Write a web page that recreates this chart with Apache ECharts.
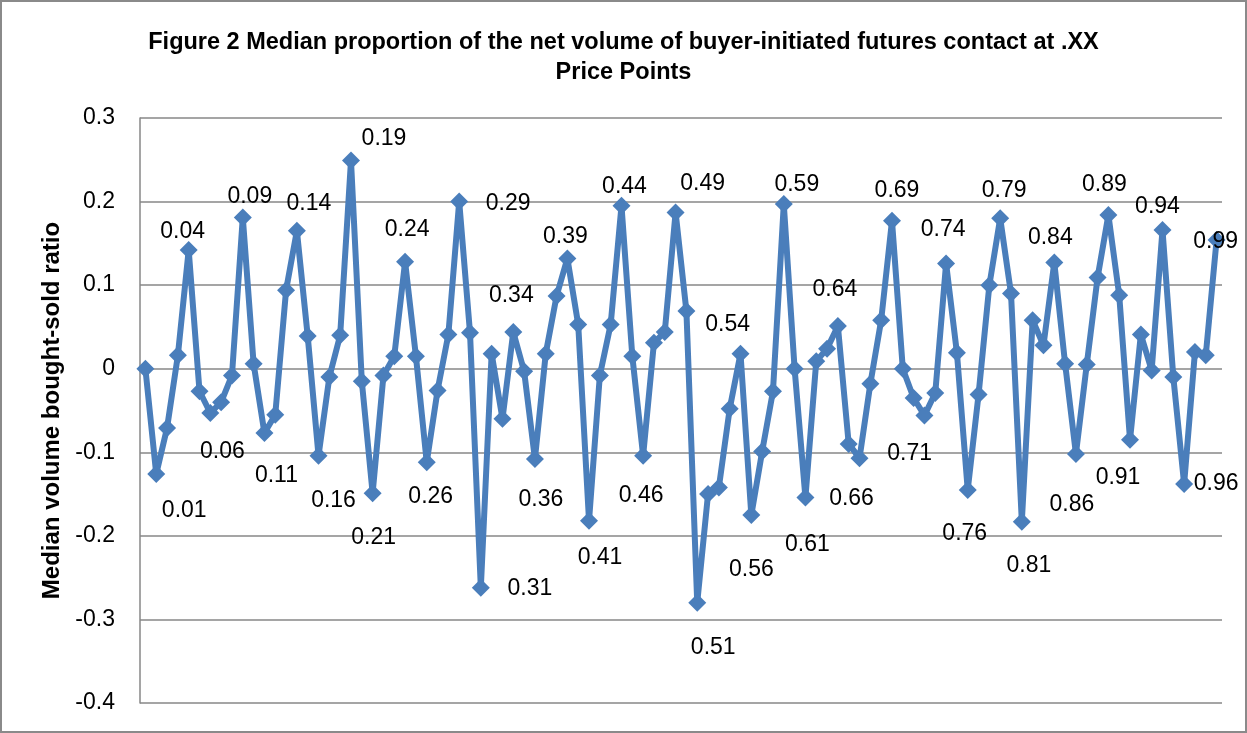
<!DOCTYPE html>
<html>
<head>
<meta charset="utf-8">
<title>Figure 2</title>
<script src="https://cdn.jsdelivr.net/npm/echarts@6/dist/echarts.min.js"></script>
<style>
  html, body { margin: 0; padding: 0; background: #fff; }
  #chart { width: 1247px; height: 733px; }
</style>
</head>
<body>
<div id="chart"></div>
<script>
// Price point categories (.00 through .99)
const categories = [
  '0.00','0.01','0.02','0.03','0.04','0.05','0.06','0.07','0.08','0.09',
  '0.10','0.11','0.12','0.13','0.14','0.15','0.16','0.17','0.18','0.19',
  '0.20','0.21','0.22','0.23','0.24','0.25','0.26','0.27','0.28','0.29',
  '0.30','0.31','0.32','0.33','0.34','0.35','0.36','0.37','0.38','0.39',
  '0.40','0.41','0.42','0.43','0.44','0.45','0.46','0.47','0.48','0.49',
  '0.50','0.51','0.52','0.53','0.54','0.55','0.56','0.57','0.58','0.59',
  '0.60','0.61','0.62','0.63','0.64','0.65','0.66','0.67','0.68','0.69',
  '0.70','0.71','0.72','0.73','0.74','0.75','0.76','0.77','0.78','0.79',
  '0.80','0.81','0.82','0.83','0.84','0.85','0.86','0.87','0.88','0.89',
  '0.90','0.91','0.92','0.93','0.94','0.95','0.96','0.97','0.98','0.99'
];

// Median bought-sold ratio at each price point
const medianRatio = [
   0.000, -0.126, -0.071,  0.016,  0.142, -0.027, -0.053, -0.040, -0.008,  0.181,
   0.006, -0.077, -0.055,  0.094,  0.165,  0.039, -0.104, -0.010,  0.040,  0.249,
  -0.015, -0.149, -0.008,  0.015,  0.128,  0.015, -0.112, -0.026,  0.041,  0.200,
   0.043, -0.262,  0.018, -0.060,  0.044, -0.003, -0.108,  0.018,  0.087,  0.132,
   0.053, -0.182, -0.008,  0.053,  0.195,  0.015, -0.104,  0.031,  0.044,  0.187,
   0.069, -0.280, -0.150, -0.142, -0.048,  0.018, -0.175, -0.099, -0.027,  0.197,
   0.000, -0.154,  0.009,  0.024,  0.051, -0.090, -0.107, -0.018,  0.058,  0.177,
   0.000, -0.035, -0.056, -0.029,  0.126,  0.019, -0.145, -0.031,  0.100,  0.180,
   0.090, -0.183,  0.058,  0.028,  0.127,  0.006, -0.102,  0.005,  0.109,  0.184,
   0.088, -0.085,  0.041, -0.002,  0.166, -0.010, -0.138,  0.020,  0.016,  0.154
];

// Y axis tick values
const yTicks = [-0.4, -0.3, -0.2, -0.1, 0, 0.1, 0.2, 0.3];

// Price points that carry a category label, with the label's offset from its marker
const labelOffsets = {
   1: [28, 37],   4: [-6, -18],  6: [12, 39],   9: [7, -21],
  11: [12, 43],  14: [12, -27], 16: [15, 45],  19: [33, -22],
  21: [1, 44],   24: [2, -32],  26: [4, 34],   29: [49, 2],
  31: [49, 1],   34: [-2, -36], 36: [6, 41],   39: [-2, -22],
  41: [11, 37],  44: [3, -19],  46: [-2, 40],  49: [27, -29],
  51: [16, 45],  54: [-2, -84], 56: [0, 55],   59: [13, -19],
  61: [2, 47],   64: [-3, -36], 66: [-8, 41],  69: [5, -30],
  71: [-4, 56],  74: [-3, -34], 76: [-3, 44],  79: [4, -28],
  81: [7, 44],   84: [-4, -25], 86: [-4, 51],  89: [-4, -30],
  91: [-12, 38], 94: [-5, -23], 96: [32, 0],   99: [-1, 2]
};

const BLUE = '#4a7ebb';
const GRID = '#878787';
const LABEL_FONT = '"Liberation Sans", Arial, sans-serif';

const seriesData = medianRatio.map(function (v, i) {
  const off = labelOffsets[i];
  if (!off) return v;
  return {
    value: v,
    label: {
      show: true,
      position: 'inside',
      offset: off,
      formatter: categories[i]
    }
  };
});

const chart = echarts.init(document.getElementById('chart'), null, { renderer: 'canvas' });

chart.setOption({
  animation: false,
  backgroundColor: '#ffffff',
  title: {
    text: 'Figure 2 Median proportion of the net volume of buyer-initiated futures contact at .XX\nPrice Points',
    left: 'center',
    top: 23,
    textStyle: {
      fontFamily: '"Liberation Sans Narrow", "Liberation Sans", Arial, sans-serif',
      fontWeight: 'bold',
      fontSize: 23.5,
      lineHeight: 30,
      color: '#000'
    }
  },
  graphic: [{
    type: 'rect',
    shape: { x: 1, y: 1, width: 1245, height: 731 },
    style: { fill: 'none', stroke: '#8a8a8a', lineWidth: 2 },
    silent: true,
    z: 100
  }],
  grid: { left: 140, right: 25, top: 118, bottom: 30, containLabel: false },
  xAxis: {
    type: 'category',
    data: categories,
    boundaryGap: true,
    axisLine: { show: false },
    axisTick: { show: false },
    axisLabel: { show: false },
    splitLine: { show: false }
  },
  yAxis: {
    type: 'value',
    min: yTicks[0],
    max: yTicks[yTicks.length - 1],
    interval: 0.1,
    name: 'Median volume bought-sold ratio',
    nameLocation: 'middle',
    nameGap: 76,
    nameTextStyle: {
      fontFamily: LABEL_FONT,
      fontWeight: 'bold',
      fontSize: 24,
      color: '#000'
    },
    axisLine: { show: true, lineStyle: { color: GRID, width: 1.5 } },
    axisTick: { show: false },
    axisLabel: {
      margin: 25,
      fontFamily: LABEL_FONT,
      fontSize: 23,
      color: '#000',
      formatter: function (v) {
        return String(Math.round(v * 10) / 10);
      }
    },
    splitLine: { show: true, lineStyle: { color: GRID, width: 1.5 } }
  },
  series: [{
    type: 'line',
    data: seriesData,
    symbol: 'diamond',
    symbolSize: 18,
    showAllSymbol: true,
    lineStyle: { color: BLUE, width: 6 },
    itemStyle: { color: BLUE },
    label: {
      show: false,
      fontFamily: LABEL_FONT,
      fontSize: 23,
      color: '#000',
      align: 'center',
      verticalAlign: 'middle'
    },
    emphasis: { disabled: true },
    z: 2
  }]
});
</script>
</body>
</html>
